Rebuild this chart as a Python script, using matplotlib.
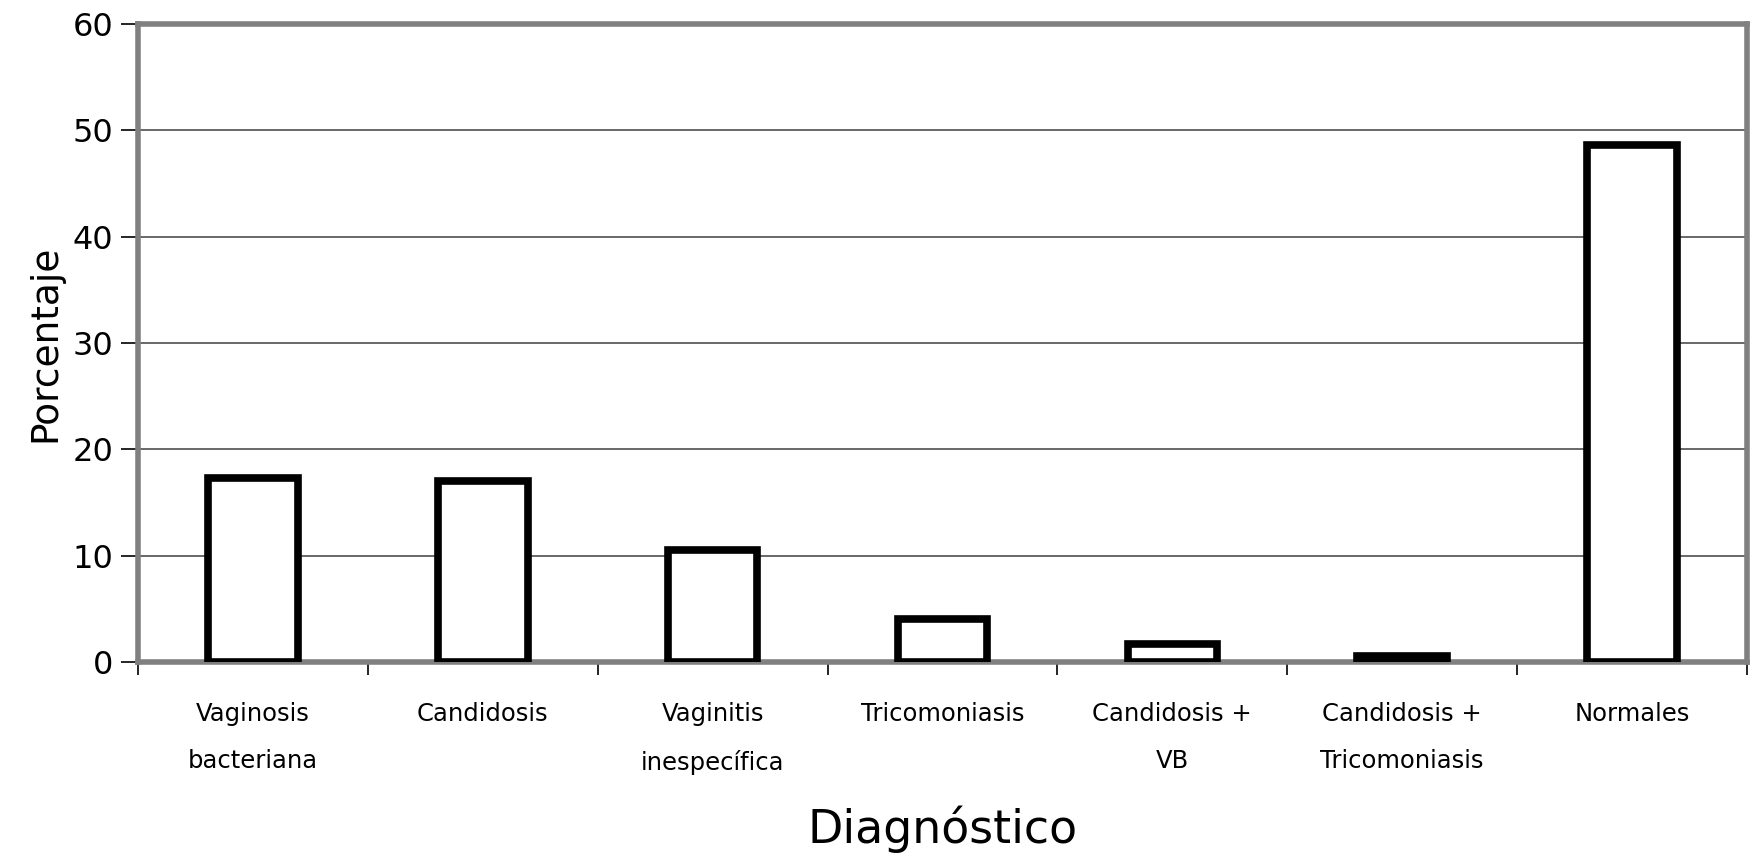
import matplotlib.pyplot as plt
import numpy as np

categories = ['Vaginosis\nbacteriana', 'Candidosis', 'Vaginitis\ninespecífica',
              'Tricomoniasis', 'Candidosis +\nVB', 'Candidosis +\nTricomoniasis',
              'Normales']
values = [17.3, 17.0, 10.5, 4.0, 1.7, 0.6, 48.6]
yticks = [0, 10, 20, 30, 40, 50, 60]

plt.rcParams['font.family'] = ['DejaVu Sans']

fig = plt.figure(figsize=(17.61, 8.56), dpi=100)
ax = fig.add_axes([0.0784, 0.2266, 0.9136, 0.7454])

x = np.arange(len(categories))
ax.bar(x, values, width=0.39, color='white', edgecolor='black', linewidth=5.5, zorder=3)

ax.set_xlim(-0.5, len(categories) - 0.5)
ax.set_ylim(0, 60)
ax.set_yticks(yticks)
ax.set_yticklabels([str(v) for v in yticks], fontsize=23)
ax.yaxis.grid(True, color='#404040', linewidth=1.1, zorder=1)

# category labels between boundary ticks
ax.set_xticks(x)
ax.set_xticklabels(categories, fontsize=17.5, linespacing=2.2)
ax.tick_params(axis='x', length=0, pad=29)
ax.set_xticks(np.arange(-0.5, len(categories)), minor=True)
ax.tick_params(axis='x', which='minor', length=9, width=1.2, color='black')
ax.tick_params(axis='y', length=12, width=1.2, pad=6)

for side in ['top', 'right', 'left', 'bottom']:
    ax.spines[side].set_color('#808080')
    ax.spines[side].set_linewidth(4)
ax.axhline(0, color='#404040', linewidth=1.2, zorder=2)

ax.set_xlabel('Diagnóstico', fontsize=33, labelpad=22)
ax.set_ylabel('Porcentaje', fontsize=27, labelpad=6)

fig.savefig('out.png', dpi=100)
